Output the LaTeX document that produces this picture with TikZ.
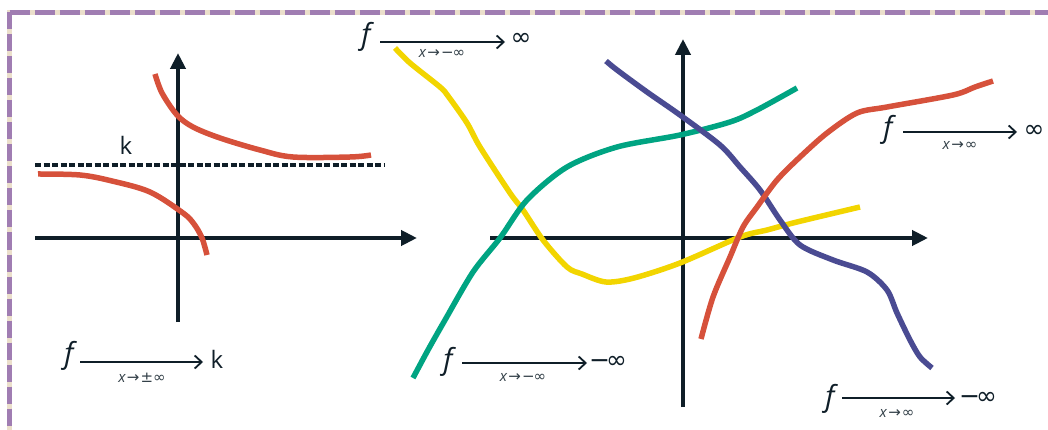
\documentclass[tikz,border=0pt]{standalone}
\usepackage{fontspec}
\setmainfont{Open Sans}
\newfontfamily\symf{DejaVu Sans}
\usetikzlibrary{arrows.meta}
\definecolor{axisc}{HTML}{0F1E28}
\definecolor{bpurple}{HTML}{A07DB2}
\definecolor{bbeige}{HTML}{EBDFCB}
\definecolor{cred}{HTML}{D6513B}
\definecolor{cyellow}{HTML}{F2D500}
\definecolor{cteal}{HTML}{00A482}
\definecolor{cblue}{HTML}{4A4B92}
\tikzset{
  axisline/.style={draw=axisc, line width=4pt, -{Triangle[length=16pt,width=15pt]}},
  curve/.style={line width=5.5pt, line cap=butt, line join=round},
  ftext/.style={font=\fontsize{29}{30}\selectfont\itshape, text=axisc, inner sep=0pt},
  vtext/.style={font=\fontsize{25}{26}\symf, text=axisc, inner sep=0pt},
  ktext/.style={font=\fontsize{24}{26}\selectfont, text=axisc, inner sep=0pt},
  subtext/.style={font=\fontsize{15}{16}\selectfont, text=axisc!85, inner sep=0pt},
  limarrow/.style={draw=axisc, line width=1.8pt, -{Straight Barb[length=7pt,width=13pt]}},
}
\newcommand{\sx}{\textit{x}}
\begin{document}
\begin{tikzpicture}[x=1pt,y=-1pt]
\useasboundingbox (0,0) rectangle (1048,430);
% border
\coordinate (b1) at (9.5,432);
\coordinate (b2) at (9.5,12.5);
\coordinate (b3) at (1050,12.5);
\draw[bbeige, line width=5pt] (b1) -- (b2) -- (b3);
\draw[bpurple, line width=5pt, dash pattern=on 17pt off 5pt] (b2) -- (b1);
\draw[bpurple, line width=5pt, dash pattern=on 20pt off 5pt] (b2) -- (b3);

% ---------- left panel ----------
\coordinate (lx0) at (35,238);
\coordinate (lx1) at (417,238);
\coordinate (ly0) at (178,322);
\coordinate (ly1) at (178,53);
\draw[axisline] (lx0) -- (lx1);
\draw[axisline] (ly0) -- (ly1);
\coordinate (k0) at (35,165);
\coordinate (k1) at (384,165);
\draw[axisc, line width=4pt, dash pattern=on 6pt off 2.5pt] (k0) -- (k1);
\node[ktext] (klab) at (126,145) {k};
\draw[curve, cred] plot[smooth, tension=0.55] coordinates {(155,74) (162,93) (177,115) (193,127) (220,138) (260,150) (293,157) (350,157) (371,155)};
\draw[curve, cred] plot[smooth, tension=0.55] coordinates {(38,174) (80,175) (112,181) (150,192) (183,213) (194,224) (202,238) (207,255)};

% ---------- right panel ----------
\coordinate (rx0) at (490,238);
\coordinate (rx1) at (928,238);
\coordinate (ry0) at (683,407);
\coordinate (ry1) at (683,39);
\draw[axisline] (rx0) -- (rx1);
\draw[axisline] (ry0) -- (ry1);

\draw[curve, cyellow] plot[smooth, tension=0.5] coordinates {(395,48) (410,63) (440,87) (448,96) (467,123) (480,147) (510,193) (523,210) (543,240) (567,267) (582,274) (606,282) (634,278) (680,263) (740,237) (767,230) (797,222) (860,207)};
\draw[curve, cteal] plot[smooth, tension=0.5] coordinates {(413,378) (428,350) (445,320) (473,272) (500,238) (527,200) (567,167) (617,147) (680,135) (730,122) (757,110) (797,88)};
\draw[curve, cblue] plot[smooth, tension=0.5] coordinates {(606,61) (617,70) (647,92) (680,115) (720,145) (740,167) (760,190) (780,220) (800,245) (833,260) (867,272) (887,290) (897,313) (910,340) (920,357) (932,368)};
\draw[curve, cred] plot[smooth, tension=0.5] coordinates {(701,339) (713,297) (730,257) (743,227) (757,207) (777,180) (800,157) (827,133) (857,113) (887,107) (953,95) (975,87) (993,81)};

% ---------- limit labels ----------
% top: x -> -inf, f -> inf
\node[ftext] (f1) at (366,37) {f};
\node[vtext] (v1) at (521,39) {∞};
\coordinate (a1s) at (380,42);
\coordinate (a1e) at (505,42);
\draw[limarrow] (a1s) -- (a1e);
\node[subtext] (s1) at (442,53) {\sx{\symf\kern1pt→\kern1pt−\kern-1pt∞}};

% right upper: x -> inf, f -> inf
\node[ftext] (f2) at (888,130) {f};
\node[vtext] (v2) at (1034,131) {∞};
\coordinate (a2s) at (903,132);
\coordinate (a2e) at (1017,132);
\draw[limarrow] (a2s) -- (a2e);
\node[subtext] (s2) at (960,145) {\sx{\symf\kern1pt→\kern1pt∞}};

% middle bottom: x -> -inf, f -> -inf
\node[ftext] (f3) at (448,362) {f};
\node[vtext] (v3) at (608,362) {−\kern-4pt∞};
\coordinate (a3s) at (462,363);
\coordinate (a3e) at (587,363);
\draw[limarrow] (a3s) -- (a3e);
\node[subtext] (s3) at (523,377) {\sx{\symf\kern1pt→\kern1pt−\kern-1pt∞}};

% bottom right: x -> inf, f -> -inf
\node[ftext] (f4) at (830,399) {f};
\node[vtext] (v4) at (978,398) {−\kern-4pt∞};
\coordinate (a4s) at (842,398);
\coordinate (a4e) at (955,398);
\draw[limarrow] (a4s) -- (a4e);
\node[subtext] (s4) at (897,413) {\sx{\symf\kern1pt→\kern1pt∞}};

% left: x -> +-inf, f -> k
\node[ftext] (f5) at (69,356) {f};
\node[ktext] (v5) at (217,359) {k};
\coordinate (a5s) at (80,362);
\coordinate (a5e) at (203,362);
\draw[limarrow] (a5s) -- (a5e);
\node[subtext] (s5) at (142,378) {\sx{\symf\kern1pt→\kern1pt±∞}};
\end{tikzpicture}
\end{document}
